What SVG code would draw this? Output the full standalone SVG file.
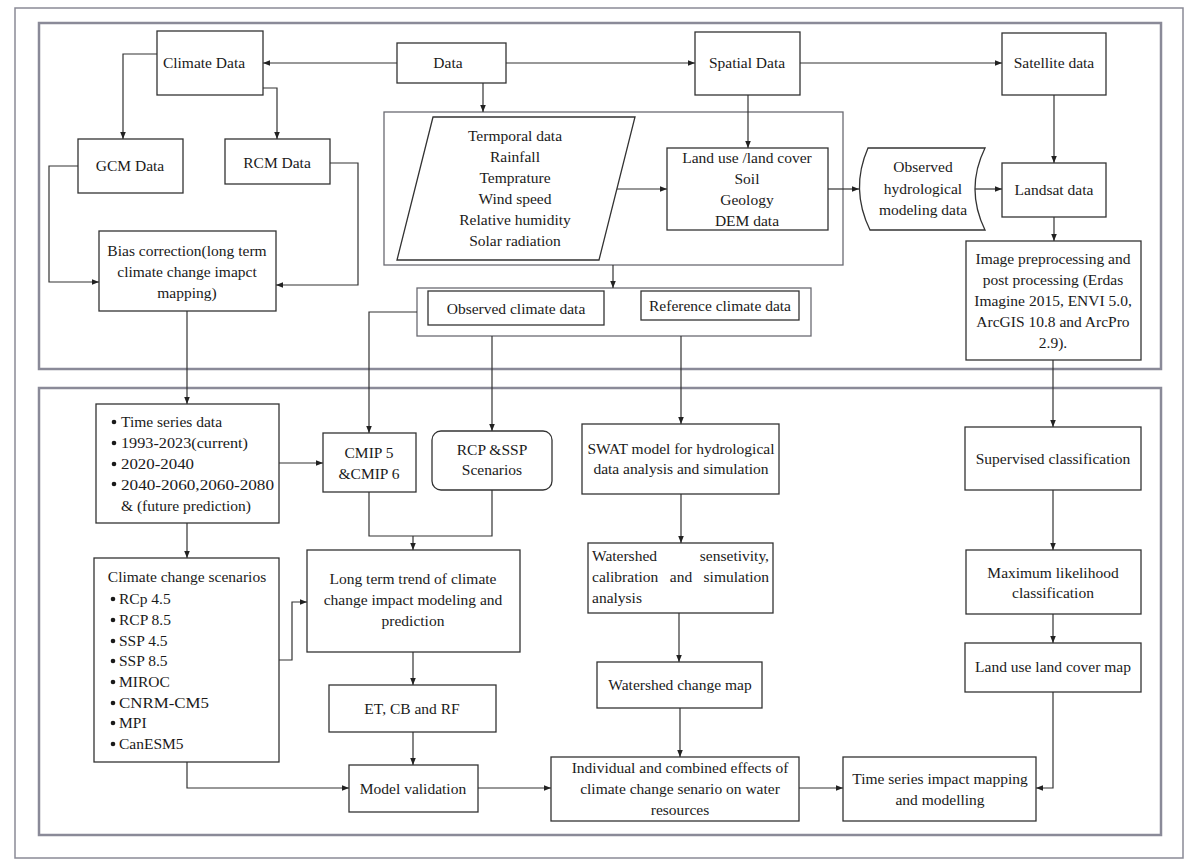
<svg xmlns="http://www.w3.org/2000/svg" width="1186" height="863" viewBox="0 0 1186 863">
<defs>
<marker id="ah" viewBox="0 0 10 10" refX="10" refY="5" markerWidth="7" markerHeight="7" markerUnits="userSpaceOnUse" orient="auto"><path d="M0,1 L10,5 L0,9 z" fill="#222"/></marker>
<style>
.frame{fill:none;stroke:#8a8a96;stroke-width:1.5}
.panel{fill:none;stroke:#8a8a98;stroke-width:2.5}
.cont{fill:none;stroke:#6a6a72;stroke-width:1.3}
.box{fill:#fff;stroke:#333;stroke-width:1.3}
.t{font-family:"Liberation Serif","Times New Roman",serif;font-size:15.5px;fill:#1a1a1a}
.c{text-anchor:middle}
.conn path{fill:none;stroke:#333;stroke-width:1.2}
.dot{fill:#1a1a1a}
</style>
</defs>
<rect width="1186" height="863" fill="#fff"/>
<rect class="frame" x="15" y="8" width="1168" height="850"/>
<rect id="panel-top" class="panel" x="39" y="23" width="1122" height="346"/>
<rect id="panel-bottom" class="panel" x="39" y="388" width="1122" height="447"/>

<g id="temporal-spatial-container"><rect class="cont" x="384" y="112" width="459" height="153"/></g>
<g id="observed-reference-container"><rect class="cont" x="417" y="288" width="394" height="48"/></g>

<g class="conn" id="connectors">
<path d="M397,63 H263" marker-end="url(#ah)"/>
<path d="M506,63 H695" marker-end="url(#ah)"/>
<path d="M800,63 H1002" marker-end="url(#ah)"/>
<path d="M157,54 H123 V139" marker-end="url(#ah)"/>
<path d="M263,88 H277 V139" marker-end="url(#ah)"/>
<path d="M78,166 H49 V282 H99" marker-end="url(#ah)"/>
<path d="M330,163 H358 V285 H276" marker-end="url(#ah)"/>
<path d="M483,83 V112" marker-end="url(#ah)"/>
<path d="M748,95 V148" marker-end="url(#ah)"/>
<path d="M617,189 H667" marker-end="url(#ah)"/>
<path d="M828,189 H859" marker-end="url(#ah)"/>
<path d="M975,189 H1002" marker-end="url(#ah)"/>
<path d="M1054,95 V163" marker-end="url(#ah)"/>
<path d="M1054,217 V241" marker-end="url(#ah)"/>
<path d="M613,265 V288" marker-end="url(#ah)"/>
<path d="M187,311 V404" marker-end="url(#ah)"/>
<path d="M417,312 H369 V433" marker-end="url(#ah)"/>
<path d="M492,336 V431" marker-end="url(#ah)"/>
<path d="M681,336 V424" marker-end="url(#ah)"/>
<path d="M1053,360 V427" marker-end="url(#ah)"/>
<path d="M279,463 H323" marker-end="url(#ah)"/>
<path d="M187,523 V558" marker-end="url(#ah)"/>
<path d="M369,492 V536 H492 V490"/>
<path d="M413,536 V550" marker-end="url(#ah)"/>
<path d="M279,660 H292 V602 H307" marker-end="url(#ah)"/>
<path d="M187,762 V788 H349" marker-end="url(#ah)"/>
<path d="M413,652 V685" marker-end="url(#ah)"/>
<path d="M413,732 V765" marker-end="url(#ah)"/>
<path d="M478,788 H551" marker-end="url(#ah)"/>
<path d="M681,494 V543" marker-end="url(#ah)"/>
<path d="M679,613 V662" marker-end="url(#ah)"/>
<path d="M680,708 V757" marker-end="url(#ah)"/>
<path d="M799,788 H843" marker-end="url(#ah)"/>
<path d="M1053,490 V550" marker-end="url(#ah)"/>
<path d="M1053,614 V643" marker-end="url(#ah)"/>
<path d="M1053,692 V788 H1036" marker-end="url(#ah)"/>
</g>

<g id="climate-data"><rect class="box" x="157" y="31" width="106" height="64"/><text class="t c" x="204" y="68">Climate Data</text></g>
<g id="data"><rect class="box" x="397" y="43" width="109" height="40"/><text class="t c" x="448" y="68">Data</text></g>
<g id="spatial-data"><rect class="box" x="695" y="32" width="105" height="63"/><text class="t c" x="747" y="68">Spatial Data</text></g>
<g id="satellite-data"><rect class="box" x="1002" y="33" width="104" height="62"/><text class="t c" x="1054" y="68">Satellite data</text></g>
<g id="gcm-data"><rect class="box" x="78" y="139" width="105" height="54"/><text class="t c" x="130" y="171">GCM Data</text></g>
<g id="rcm-data"><rect class="box" x="225" y="139" width="105" height="45"/><text class="t c" x="277" y="168">RCM Data</text></g>
<g id="bias-correction"><rect class="box" x="99" y="231" width="177" height="80"/>
<text class="t c" x="187" y="256">Bias correction(long term</text>
<text class="t c" x="187" y="277">climate change imapct</text>
<text class="t c" x="187" y="298">mapping)</text></g>

<g id="temporal-data"><path class="box" d="M433,117 L635,117 L599,260 L397,260 Z"/>
<text class="t c" x="515" y="141">Termporal data</text>
<text class="t c" x="515" y="162">Rainfall</text>
<text class="t c" x="515" y="183">Temprature</text>
<text class="t c" x="515" y="204">Wind speed</text>
<text class="t c" x="515" y="225">Relative humidity</text>
<text class="t c" x="515" y="246">Solar radiation</text></g>

<g id="land-use-data"><rect class="box" x="667" y="148" width="161" height="82"/>
<text class="t c" x="747" y="163">Land use /land cover</text>
<text class="t c" x="747" y="184">Soil</text>
<text class="t c" x="747" y="205">Geology</text>
<text class="t c" x="747" y="226">DEM data</text></g>

<g id="observed-hydrological"><path class="box" d="M868,148 L985,148 Q965,189 985,230 L870,230 Q850,189 868,148 Z"/>
<text class="t c" x="923" y="172">Observed</text>
<text class="t c" x="923" y="194">hydrological</text>
<text class="t c" x="923" y="215">modeling data</text></g>

<g id="landsat-data"><rect class="box" x="1002" y="163" width="104" height="54"/><text class="t c" x="1054" y="195">Landsat data</text></g>

<g id="image-processing"><rect class="box" x="966" y="241" width="175" height="119"/>
<text class="t c" x="1053" y="264">Image preprocessing and</text>
<text class="t c" x="1053" y="285">post processing (Erdas</text>
<text class="t c" x="1053" y="306">Imagine 2015, ENVI 5.0,</text>
<text class="t c" x="1053" y="327">ArcGIS 10.8 and ArcPro</text>
<text class="t c" x="1053" y="348">2.9).</text></g>

<g id="observed-climate"><rect class="box" x="428" y="291" width="176" height="34"/><text class="t c" x="516" y="314">Observed climate data</text></g>
<g id="reference-climate"><rect class="box" x="641" y="291" width="158" height="29"/><text class="t c" x="720" y="311">Reference climate data</text></g>

<g id="time-series"><rect class="box" x="96" y="404" width="183" height="119"/>
<circle class="dot" cx="114" cy="422" r="2.3"/><text class="t" x="121" y="427">Time series data</text>
<circle class="dot" cx="114" cy="443" r="2.3"/><text class="t" x="121" y="448" textLength="127" lengthAdjust="spacingAndGlyphs">1993-2023(current)</text>
<circle class="dot" cx="114" cy="464" r="2.3"/><text class="t" x="121" y="469" textLength="73" lengthAdjust="spacingAndGlyphs">2020-2040</text>
<circle class="dot" cx="114" cy="484" r="2.3"/><text class="t" x="121" y="490" textLength="153" lengthAdjust="spacingAndGlyphs">2040-2060,2060-2080</text>
<text class="t" x="121" y="511">&amp; (future prediction)</text></g>

<g id="climate-scenarios"><rect class="box" x="94" y="558" width="185" height="204"/>
<text class="t c" x="187" y="582">Climate change scenarios</text>
<circle class="dot" cx="113" cy="599" r="2.3"/><text class="t" x="119" y="604">RCp 4.5</text>
<circle class="dot" cx="113" cy="620" r="2.3"/><text class="t" x="119" y="625">RCP 8.5</text>
<circle class="dot" cx="113" cy="641" r="2.3"/><text class="t" x="119" y="646">SSP 4.5</text>
<circle class="dot" cx="113" cy="661" r="2.3"/><text class="t" x="119" y="666">SSP 8.5</text>
<circle class="dot" cx="113" cy="682" r="2.3"/><text class="t" x="119" y="687">MIROC</text>
<circle class="dot" cx="113" cy="703" r="2.3"/><text class="t" x="119" y="708" textLength="90" lengthAdjust="spacingAndGlyphs">CNRM-CM5</text>
<circle class="dot" cx="113" cy="723" r="2.3"/><text class="t" x="119" y="728">MPI</text>
<circle class="dot" cx="113" cy="744" r="2.3"/><text class="t" x="119" y="749">CanESM5</text></g>

<g id="cmip"><rect class="box" x="323" y="433" width="93" height="59"/>
<text class="t c" x="369" y="458">CMIP 5</text>
<text class="t c" x="369" y="479">&amp;CMIP 6</text></g>

<g id="rcp-ssp"><rect class="box" x="432" y="431" width="120" height="59" rx="9" ry="9"/>
<text class="t c" x="492" y="455">RCP &amp;SSP</text>
<text class="t c" x="492" y="475">Scenarios</text></g>

<g id="swat"><rect class="box" x="582" y="424" width="197" height="70"/>
<text class="t c" x="681" y="454">SWAT model for hydrological</text>
<text class="t c" x="681" y="474">data analysis and simulation</text></g>

<g id="long-term"><rect class="box" x="307" y="550" width="213" height="102"/>
<text class="t c" x="413" y="584">Long term trend of climate</text>
<text class="t c" x="413" y="605">change impact modeling and</text>
<text class="t c" x="413" y="626">prediction</text></g>

<g id="et-cb-rf"><rect class="box" x="329" y="685" width="167" height="47"/><text class="t c" x="412" y="714">ET, CB and RF</text></g>
<g id="model-validation"><rect class="box" x="349" y="765" width="129" height="47"/><text class="t c" x="413" y="794">Model validation</text></g>

<g id="watershed-sensitivity"><rect class="box" x="588" y="543" width="185" height="70"/>
<text class="t" x="592" y="561">Watershed</text><text class="t" x="769" y="561" text-anchor="end">sensetivity,</text>
<text class="t" x="592" y="582">calibration</text><text class="t c" x="681" y="582">and</text><text class="t" x="769" y="582" text-anchor="end">simulation</text>
<text class="t" x="592" y="603">analysis</text></g>

<g id="watershed-change"><rect class="box" x="597" y="662" width="165" height="46"/><text class="t c" x="680" y="690">Watershed change map</text></g>

<g id="individual-combined"><rect class="box" x="551" y="757" width="248" height="64"/>
<text class="t c" x="680" y="773">Individual and combined effects of</text>
<text class="t c" x="680" y="794">climate change senario on water</text>
<text class="t c" x="680" y="815">resources</text></g>

<g id="time-series-impact"><rect class="box" x="843" y="757" width="193" height="64"/>
<text class="t c" x="940" y="784">Time series impact mapping</text>
<text class="t c" x="940" y="805">and modelling</text></g>

<g id="supervised"><rect class="box" x="965" y="427" width="176" height="63"/><text class="t c" x="1053" y="464">Supervised classification</text></g>
<g id="maximum-likelihood"><rect class="box" x="966" y="550" width="175" height="64"/>
<text class="t c" x="1053" y="578">Maximum likelihood</text>
<text class="t c" x="1053" y="598">classification</text></g>
<g id="lulc-map"><rect class="box" x="965" y="643" width="176" height="49"/><text class="t c" x="1053" y="672">Land use land cover map</text></g>
</svg>
